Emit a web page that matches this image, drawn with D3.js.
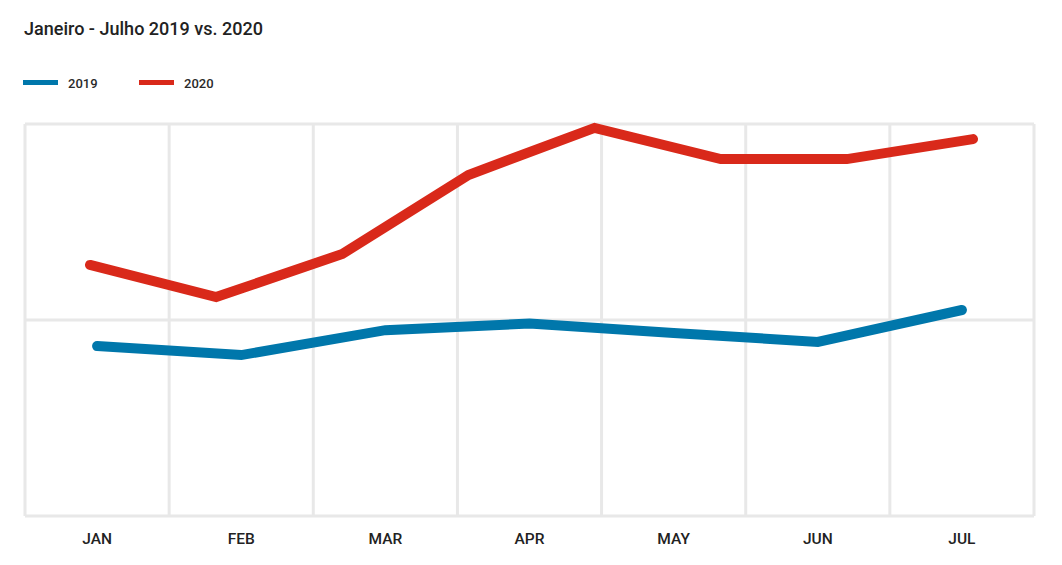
<!DOCTYPE html>
<html>
<head>
<meta charset="utf-8">
<script src="https://cdn.jsdelivr.net/npm/d3@7"></script>
<style>
  html, body { margin: 0; padding: 0; background: #fff; }
  svg { display: block; font-family: Roboto, "Noto Sans", sans-serif; }
</style>
</head>
<body>
<svg id="chart" width="1062" height="565"></svg>
<script>
const months = ["JAN", "FEB", "MAR", "APR", "MAY", "JUN", "JUL"];
const values2019 = [86.7, 82.1, 94.8, 98.2, 93.4, 88.8, 105.1];
const values2020 = [128.1, 111.7, 133.7, 174.0, 198.0, 182.1, 182.1, 192.3];
const yTicks = [0, 100, 200];
const seriesNames = ["2019", "2020"];
const colors = ["#0077ab", "#d9291a"];

const svg = d3.select("#chart");
const plotLeft = 25, plotRight = 1034, plotTop = 124, plotBottom = 516;

const x = d3.scaleBand().domain(months).range([plotLeft, plotRight]).padding(0);
const y = d3.scaleLinear().domain([0, 200]).range([plotBottom, plotTop]);
const x2020 = d3.scaleLinear().domain([0, values2020.length - 1]).range([90, 973]);

// title
svg.append("text").attr("x", 24).attr("y", 35)
  .attr("font-size", 18).attr("font-weight", 500).attr("fill", "#222")
  .attr("textLength", 239).attr("lengthAdjust", "spacingAndGlyphs")
  .text("Janeiro - Julho 2019 vs. 2020");

// legend
const legendX = [23, 139];
seriesNames.forEach((s, i) => {
  svg.append("rect").attr("x", legendX[i]).attr("y", 80).attr("width", 35).attr("height", 5)
    .attr("fill", colors[i]);
  svg.append("text").attr("x", legendX[i] + 45).attr("y", 87.5)
    .attr("font-size", 13).attr("font-weight", 500).attr("fill", "#2a2a2a").text(s);
});

// grid
const grid = svg.append("g").attr("stroke", "#e8e8e8").attr("stroke-width", 3);
const vLines = months.map(m => x(m)).concat([x(months[months.length - 1]) + x.bandwidth()]);
grid.selectAll("line.v").data(vLines).join("line").attr("class", "v")
  .attr("x1", d => d).attr("x2", d => d).attr("y1", plotTop).attr("y2", plotBottom);
grid.selectAll("line.h").data(yTicks).join("line").attr("class", "h")
  .attr("x1", plotLeft).attr("x2", plotRight).attr("y1", d => y(d)).attr("y2", d => y(d));

// x axis labels
const xAxis = d3.axisBottom(x).tickSize(0).tickPadding(17);
const gx = svg.append("g").attr("transform", `translate(0,${plotBottom})`).call(xAxis);
gx.select(".domain").remove();
gx.selectAll("text").attr("font-size", 15.5).attr("font-weight", 500).attr("fill", "#222")
  .attr("font-family", "Roboto, sans-serif");

// lines
const line2019 = d3.line().x((d, i) => x(months[i]) + x.bandwidth() / 2).y(d => y(d));
const line2020 = d3.line().x((d, i) => x2020(i)).y(d => y(d));

svg.append("path").datum(values2019).attr("d", line2019)
  .attr("fill", "none").attr("stroke", colors[0]).attr("stroke-width", 10)
  .attr("stroke-linecap", "round").attr("stroke-linejoin", "miter");
svg.append("path").datum(values2020).attr("d", line2020)
  .attr("fill", "none").attr("stroke", colors[1]).attr("stroke-width", 10)
  .attr("stroke-linecap", "round").attr("stroke-linejoin", "miter");
</script>
</body>
</html>
